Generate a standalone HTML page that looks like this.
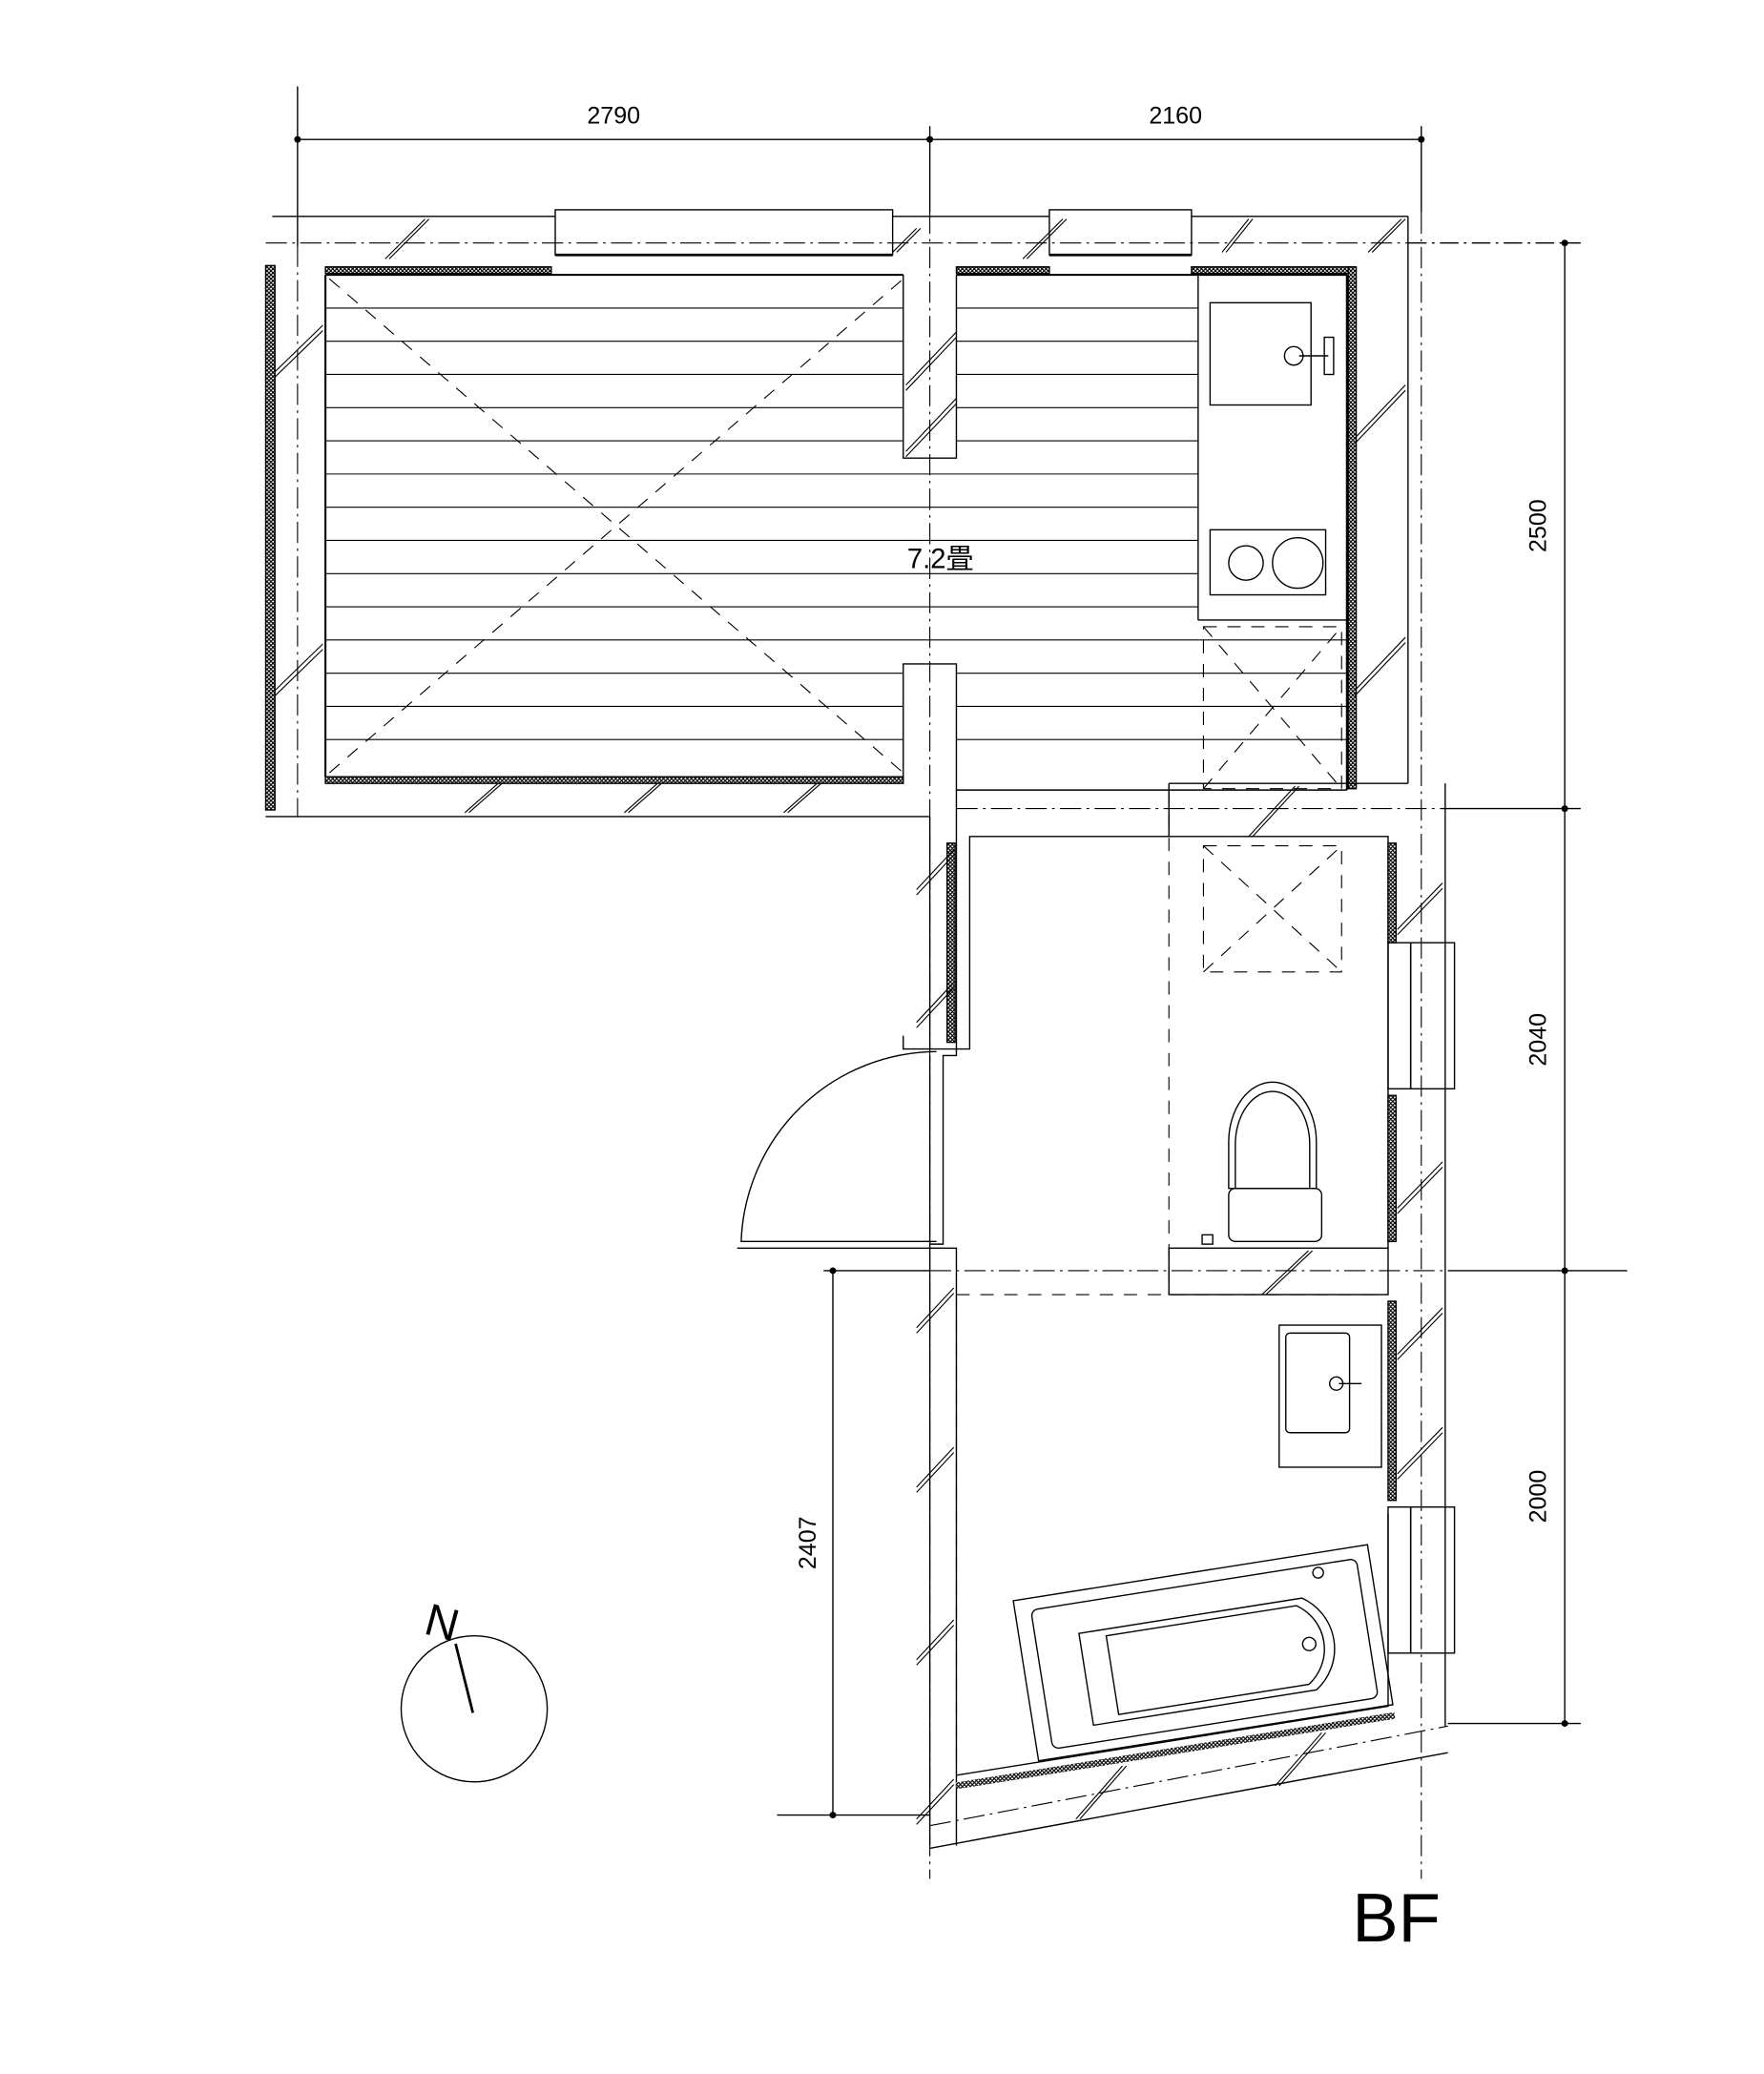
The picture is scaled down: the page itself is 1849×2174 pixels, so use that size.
<!DOCTYPE html>
<html><head><meta charset="utf-8"><style>
html,body{margin:0;padding:0;background:#fff}
svg{display:block}
text{font-family:"Liberation Sans","Noto Sans CJK JP",sans-serif;fill:#000}
</style></head><body>
<svg width="1849" height="2174" viewBox="0 0 1328 1562" preserveAspectRatio="none" xmlns="http://www.w3.org/2000/svg">
<defs>
<pattern id="ins" width="3" height="3" patternUnits="userSpaceOnUse"><rect width="3" height="3" fill="#fff"/><path d="M0 0L3 3M3 0L0 3" stroke="#000" stroke-width="0.8"/></pattern>
</defs>
<g fill="none" stroke="#000" stroke-width="1">
<line x1="224" y1="105" x2="1070" y2="105"/>
<line x1="224" y1="65" x2="224" y2="185"/>
<line x1="700" y1="95" x2="700" y2="160"/>
<line x1="1070" y1="95" x2="1070" y2="160"/>
<line x1="1178" y1="183" x2="1178" y2="1298"/>
<line x1="1060" y1="183" x2="1190" y2="183" stroke-dasharray="14 4 2 4"/>
<line x1="1085" y1="609" x2="1190" y2="609"/>
<line x1="1090" y1="957" x2="1225" y2="957"/>
<line x1="1090" y1="1298" x2="1190" y2="1298"/>
<line x1="627" y1="957" x2="627" y2="1367"/>
<line x1="585" y1="1367" x2="700" y2="1367"/>
<line x1="620" y1="957" x2="700" y2="957"/>
<g stroke-dasharray="16 4 2 4" stroke-width="0.8">
<line x1="200" y1="183" x2="1060" y2="183"/>
<line x1="700" y1="160" x2="700" y2="1415"/>
<line x1="1070" y1="160" x2="1070" y2="1415"/>
<line x1="224" y1="185" x2="224" y2="615"/>
<line x1="720" y1="609" x2="1085" y2="609"/>
<line x1="700" y1="957" x2="1090" y2="957"/>
<line x1="700" y1="1375" x2="1090" y2="1300"/>
</g>
<g fill="#000" stroke="none">
<circle cx="224" cy="105" r="2.5"/><circle cx="700" cy="105" r="2.5"/><circle cx="1070" cy="105" r="2.5"/>
<circle cx="1178" cy="183" r="2.5"/><circle cx="1178" cy="609" r="2.5"/><circle cx="1178" cy="957" r="2.5"/><circle cx="1178" cy="1298" r="2.5"/>
<circle cx="627" cy="957" r="2.5"/><circle cx="627" cy="1367" r="2.5"/>
</g>

<line x1="205" y1="163" x2="418" y2="163"/>
<line x1="672" y1="163" x2="790" y2="163"/>
<line x1="897" y1="163" x2="1060" y2="163"/>
<line x1="1060" y1="163" x2="1060" y2="590"/>
<rect x="418" y="158" width="254" height="34"/>
<rect x="790" y="158" width="107" height="34"/>
<line x1="418" y1="192" x2="672" y2="192" stroke-width="2"/>
<line x1="790" y1="192" x2="897" y2="192" stroke-width="2"/>
<rect x="245" y="201" width="170" height="5" fill="url(#ins)"/>
<rect x="720" y="201" width="70" height="5" fill="url(#ins)"/>
<rect x="897" y="201" width="120" height="5" fill="url(#ins)"/>
<rect x="200" y="200" width="7" height="410" fill="url(#ins)"/>
<rect x="1015" y="201" width="6" height="393" fill="url(#ins)"/>
<rect x="245" y="585" width="435" height="5" fill="url(#ins)"/>
<line x1="245" y1="207" x2="680" y2="207" stroke-width="1.5"/>
<line x1="720" y1="207" x2="1014" y2="207" stroke-width="1.5"/>
<line x1="245" y1="207" x2="245" y2="585" stroke-width="1.5"/>
<line x1="1014" y1="207" x2="1014" y2="595" stroke-width="1.5"/>
<line x1="245" y1="585" x2="680" y2="585"/>
<line x1="200" y1="615" x2="700" y2="615"/>
<path d="M680 207V345H720V207"/>
<path d="M680 585V500H720V595H1014"/>
<g stroke-width="0.8">
<line x1="245" y1="232" x2="680" y2="232"/><line x1="720" y1="232" x2="902" y2="232"/>
<line x1="245" y1="257" x2="680" y2="257"/><line x1="720" y1="257" x2="902" y2="257"/>
<line x1="245" y1="282" x2="680" y2="282"/><line x1="720" y1="282" x2="902" y2="282"/>
<line x1="245" y1="307" x2="680" y2="307"/><line x1="720" y1="307" x2="902" y2="307"/>
<line x1="245" y1="332" x2="680" y2="332"/><line x1="720" y1="332" x2="902" y2="332"/>
<line x1="245" y1="357" x2="902" y2="357"/>
<line x1="245" y1="382" x2="902" y2="382"/>
<line x1="245" y1="407" x2="902" y2="407"/>
<line x1="245" y1="432" x2="902" y2="432"/>
<line x1="245" y1="457" x2="902" y2="457"/>
<line x1="245" y1="482" x2="1014" y2="482"/>
<line x1="245" y1="507" x2="680" y2="507"/><line x1="720" y1="507" x2="1014" y2="507"/>
<line x1="245" y1="532" x2="680" y2="532"/><line x1="720" y1="532" x2="1014" y2="532"/>
<line x1="245" y1="557" x2="680" y2="557"/><line x1="720" y1="557" x2="1014" y2="557"/>
</g>
<g stroke-dasharray="10 8" stroke-width="0.8">
<line x1="248" y1="210" x2="680" y2="582"/>
<line x1="248" y1="582" x2="680" y2="210"/>
<rect x="906" y="472" width="104" height="122"/>
<line x1="906" y1="472" x2="1010" y2="594"/><line x1="906" y1="594" x2="1010" y2="472"/>
<rect x="906" y="637" width="104" height="95"/>
<line x1="906" y1="637" x2="1010" y2="732"/><line x1="906" y1="732" x2="1010" y2="637"/>
<line x1="880" y1="595" x2="880" y2="975"/>
<line x1="720" y1="975" x2="1045" y2="975"/>
<line x1="720" y1="975" x2="720" y2="1330"/>
</g>
<line x1="902" y1="207" x2="902" y2="467"/>
<line x1="902" y1="467" x2="1014" y2="467"/>
<rect x="911" y="228" width="76" height="77"/>
<circle cx="974" cy="268" r="7"/><line x1="978" y1="268" x2="1000" y2="268"/><rect x="997" y="254" width="7" height="28"/>
<rect x="911" y="399" width="87" height="49"/>
<circle cx="938" cy="424" r="13"/><circle cx="977" cy="424" r="19"/>

<path d="M720 595V790H730V630H880"/>
<path d="M700 615V790"/>
<rect x="713" y="635" width="6" height="150" fill="url(#ins)"/>
<path d="M880 590H1060"/>
<path d="M880 590V630H1045V940"/>
<rect x="1045" y="635" width="6" height="75" fill="url(#ins)"/>
<rect x="1045" y="825" width="6" height="110" fill="url(#ins)"/>
<rect x="1045" y="980" width="6" height="150" fill="url(#ins)"/>
<path d="M1088 590V1300"/>
<rect x="1062" y="710" width="33" height="110"/>
<rect x="1045" y="710" width="17" height="110"/>
<rect x="1062" y="1135" width="33" height="110"/>
<rect x="1045" y="1135" width="17" height="110"/>
<path d="M680 780V790H720V795H710V937H700V795"/>
<path d="M705 792A148 148 0 0 0 558 935H705"/>
<path d="M555 940H720V1390"/>
<path d="M700 937V1390"/>
<rect x="880" y="940" width="165" height="35"/>
<path d="M925 895V860A33 45 0 0 1 991 860V895Z"/>
<path d="M930 895V862A28 40 0 0 1 986 862V895"/>
<rect x="925" y="895" width="70" height="40" rx="5"/>
<rect x="905" y="930" width="8" height="7"/>
<rect x="963" y="998" width="77" height="107"/>
<rect x="968" y="1004" width="48" height="75" rx="3"/>
<circle cx="1006" cy="1042" r="5"/><line x1="1008" y1="1042" x2="1025" y2="1042"/>
<path d="M720 1337L1045 1285V1140"/>
<path d="M720 1345L1050 1292" stroke-width="5" stroke="url(#ins)"/>
<path d="M700 1392L1090 1320"/>
<g transform="rotate(-9 910 1240)">
<rect x="770" y="1183" width="270" height="122"/>
<rect x="782" y="1192" width="248" height="106" rx="5"/>
<path d="M815 1215H985A42 42 0 0 1 985 1285H815Z"/>
<path d="M835 1220H980A36 36 0 0 1 980 1280H835Z"/>
<circle cx="1000" cy="1198" r="4"/>
<circle cx="985" cy="1250" r="5"/>
</g>
<g stroke-width="0.8">
<path d="M290 195L320 165M293 195L323 165"/>
<path d="M672 190L690 172M675 190L693 172"/>
<path d="M770 195L800 165M773 195L803 165"/>
<path d="M920 190L940 165M923 190L943 165"/>
<path d="M1030 190L1055 165M1033 190L1058 165"/>
<path d="M207 280L243 245M207 284L243 249"/>
<path d="M207 520L243 485M207 524L243 489"/>
<path d="M682 340L720 300M682 344L720 304"/>
<path d="M682 290L720 250M682 294L720 254"/>
<path d="M1020 330L1058 290M1020 334L1058 294"/>
<path d="M1020 520L1058 480M1020 524L1058 484"/>
<path d="M350 612L375 590M353 612L378 590"/>
<path d="M470 612L495 590M473 612L498 590"/>
<path d="M590 612L615 590M593 612L618 590"/>
<path d="M940 630L975 592M943 630L978 592"/>
<path d="M690 670L718 640M690 674L718 644"/>
<path d="M690 770L718 740M690 774L718 744"/>
<path d="M1052 700L1086 665M1052 704L1086 669"/>
<path d="M1052 910L1086 875M1052 914L1086 879"/>
<path d="M950 975L985 942M953 975L988 942"/>
<path d="M1052 1020L1086 985M1052 1024L1086 989"/>
<path d="M1052 1110L1086 1075M1052 1114L1086 1079"/>
<path d="M690 1000L718 970M690 1004L718 974"/>
<path d="M690 1120L718 1090M690 1124L718 1094"/>
<path d="M690 1250L718 1220M690 1254L718 1224"/>
<path d="M690 1370L718 1340M690 1374L718 1344"/>
<path d="M810 1370L845 1330M813 1370L848 1330"/>
<path d="M960 1345L995 1305M963 1345L998 1305"/>
</g>
<circle cx="357" cy="1287" r="55"/>
<line x1="343" y1="1238" x2="356" y2="1290" stroke-width="2"/>
</g>
<text x="462" y="93" font-size="18" text-anchor="middle">2790</text>
<text x="885" y="93" font-size="18" text-anchor="middle">2160</text>
<text font-size="18" text-anchor="middle" transform="translate(1164 396) rotate(-90)">2500</text>
<text font-size="18" text-anchor="middle" transform="translate(1164 783) rotate(-90)">2040</text>
<text font-size="18" text-anchor="middle" transform="translate(1164 1127) rotate(-90)">2000</text>
<text font-size="18" text-anchor="middle" transform="translate(614 1162) rotate(-90)">2407</text>
<text x="708" y="428" font-size="21" text-anchor="middle">7.2畳</text>
<text font-size="34" transform="translate(318 1230) rotate(15)">N</text>
<text x="1018" y="1462" font-size="52">BF</text>
</svg>
</body></html>
